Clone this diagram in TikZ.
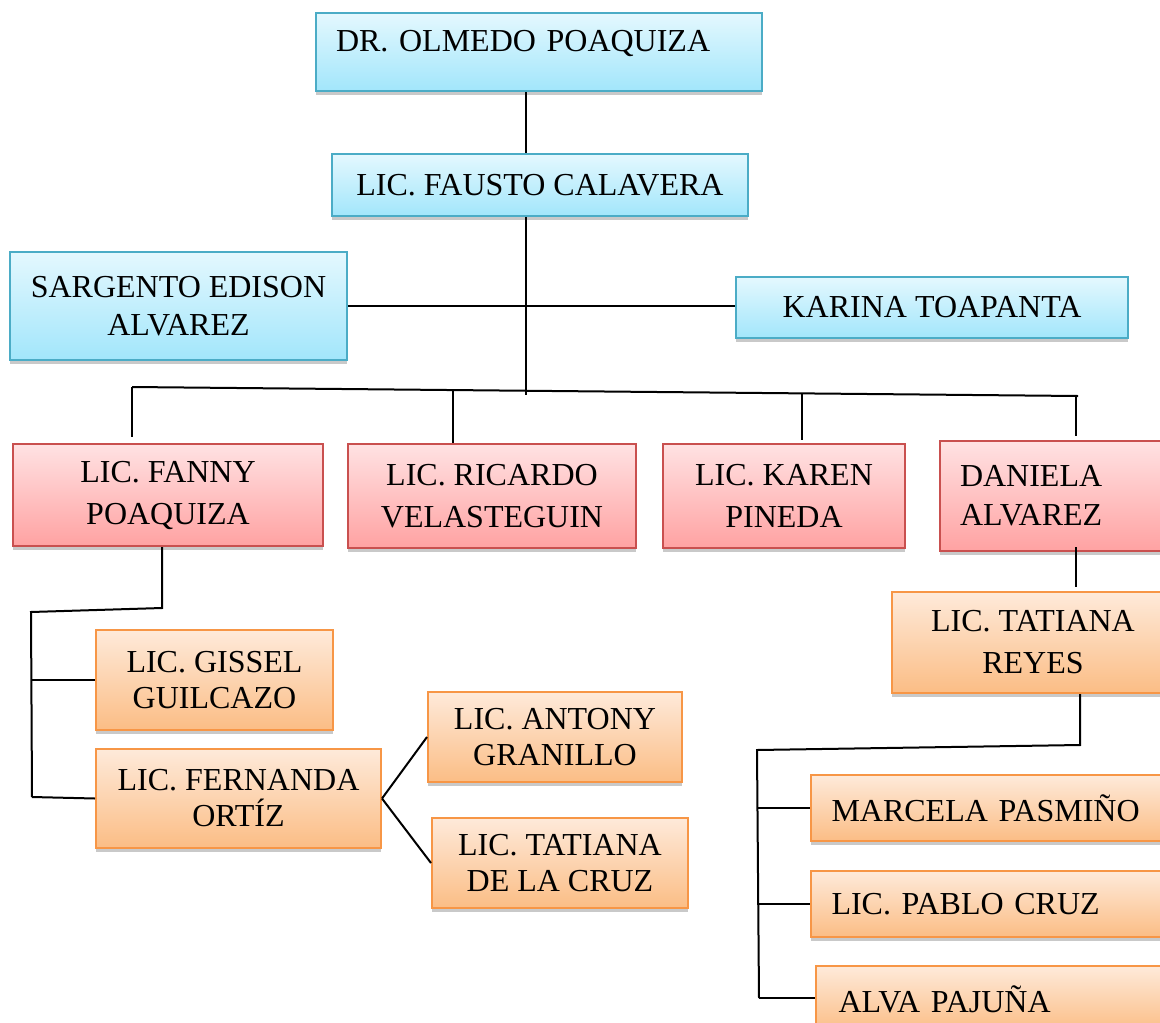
\documentclass[tikz,border=0pt]{standalone}
\usepackage{fontspec}
\setmainfont{Liberation Serif}
\usetikzlibrary{shadows,calc}
\definecolor{blueT}{HTML}{E4F8FE}
\definecolor{blueB}{HTML}{A2E6FB}
\definecolor{blueD}{HTML}{4BACC6}
\definecolor{redT}{HTML}{FFE2E3}
\definecolor{redB}{HTML}{FFA2A2}
\definecolor{redD}{HTML}{C9504F}
\definecolor{orgT}{HTML}{FEEADA}
\definecolor{orgB}{HTML}{FBBD85}
\definecolor{orgD}{HTML}{F79646}
\tikzset{
  box/.style={line width=2pt, inner sep=0pt, align=center,
    drop shadow={shadow xshift=0pt, shadow yshift=-4pt, opacity=0.3, fill=black!70}},
  bluebox/.style={box, draw=blueD, top color=blueT, bottom color=blueB,
    font=\fontsize{32}{38}\selectfont},
  redbox/.style={box, draw=redD, top color=redT, bottom color=redB,
    font=\fontsize{32}{42}\selectfont},
  orgbox/.style={box, draw=orgD, top color=orgT, bottom color=orgB,
    font=\fontsize{32}{36}\selectfont},
  sz/.style 2 args={minimum width=#1pt, minimum height=#2pt},
  link/.style={line width=2pt, black}
}
\begin{document}
\begin{tikzpicture}[x=1pt,y=-1pt]
\useasboundingbox (0,0) rectangle (1160,1023);
% top level
\node[bluebox, sz={446}{78}, text width=406pt, inner xsep=20pt, align=left,
      text height=21pt, text depth=23pt] (olmedo) at (539,52) {DR. OLMEDO POAQUIZA};
\node[bluebox, sz={416}{62}] (fausto) at (540,185) {LIC. FAUSTO CALAVERA};
\node[bluebox, sz={337}{108}] (sargento) at (178.5,306) {SARGENTO EDISON\\ALVAREZ};
\node[bluebox, sz={392}{61}] (karina) at (932,307.5) {KARINA TOAPANTA};
% second level
\node[redbox, sz={310}{102}] (fanny) at (168,495) {LIC. FANNY\\POAQUIZA};
\node[redbox, sz={288}{104}] (ricardo) at (492,496) {LIC. RICARDO\\VELASTEGUIN};
\node[redbox, sz={242}{104}] (karen) at (784,496) {LIC. KAREN\\PINEDA};
\node[redbox, sz={240}{110}, text width=200pt, inner xsep=20pt, align=left,
      font=\fontsize{32}{39}\selectfont] (daniela) at (1060,496) {DANIELA\\ALVAREZ};
% third level left
\node[orgbox, sz={237}{100}] (gissel) at (214.5,680) {LIC. GISSEL\\GUILCAZO};
\node[orgbox, sz={285}{99}] (fernanda) at (238.5,798.5) {LIC. FERNANDA\\ORTÍZ};
\node[orgbox, sz={254}{90}] (antony) at (555,737) {LIC. ANTONY\\GRANILLO};
\node[orgbox, sz={256}{90}] (tcruz) at (560,863) {LIC. TATIANA\\DE LA CRUZ};
% third level right
\node[orgbox, sz={282}{101}, font=\fontsize{32}{42}\selectfont] (reyes) at (1033,642.5) {LIC. TATIANA\\REYES};
\node[orgbox, sz={370}{66}, text width=329pt, inner xsep=21pt, align=left] (marcela) at (996,808) {MARCELA PASMIÑO};
\node[orgbox, sz={370}{66}, text width=329pt, inner xsep=21pt, align=left] (pablo) at (996,904) {LIC. PABLO CRUZ};
\node[orgbox, sz={364}{66}, text width=321pt, inner xsep=23pt, align=left] (alva) at (999,999) {ALVA PAJUÑA};
% junction coordinates
\coordinate (trunk) at (525.5,395);
\coordinate (d1) at (132,387);
\coordinate (d2) at (453,390);
\coordinate (d3) at (802,393);
\coordinate (d4) at (1076,396);
\coordinate (bR) at (1078,396);
\coordinate (fa) at (162,608);
\coordinate (fb) at (31,612);
\coordinate (fc) at (32,797);
\coordinate (ra) at (1080,745);
\coordinate (rb) at (757,750);
\coordinate (rc) at (759,998);
% connectors
\draw[link] (olmedo.south -| trunk) -- (fausto.north -| trunk);
\draw[link] (fausto.south -| trunk) -- (trunk);
\draw[link] (sargento.east) -- (sargento.east -| karina.west);
\draw[link] (d1) -- (bR);
\draw[link] (d1) -- ($(d1 |- fanny.north)+(0,-6)$);
\draw[link] (d2) -- (d2 |- ricardo.north);
\draw[link] (d3) -- ($(d3 |- karen.north)+(0,-3)$);
\draw[link] (d4) -- ($(d4 |- daniela.north)+(0,-4)$);
\draw[link] (fanny.south -| fa) -- (fa) -- (fb) -- (fc);
\draw[link] (gissel.west -| fb) -- (gissel.west);
\draw[link] (fc) -- (fernanda.west);
\draw[link] (fernanda.east) -- (antony.west);
\draw[link] (fernanda.east) -- (tcruz.west);
\draw[link] ($(daniela.south -| d4)+(0,-5)$) -- ($(reyes.north -| d4)+(0,-4)$);
\draw[link] (reyes.south -| ra) -- (ra) -- (rb) -- (rc);
\draw[link] (marcela.west -| rb) -- (marcela.west);
\draw[link] (pablo.west -| rb) -- (pablo.west);
\draw[link] (rc) -- (rc -| alva.west);
\end{tikzpicture}
\end{document}
